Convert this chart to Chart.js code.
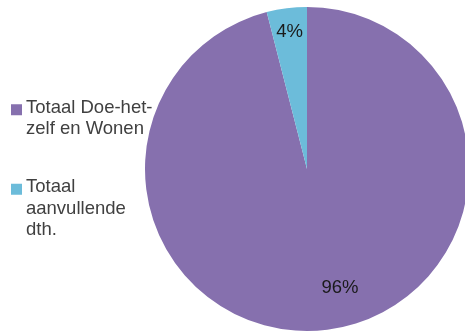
<!DOCTYPE html>
<html>
<head>
<meta charset="utf-8">
<script src="https://cdn.jsdelivr.net/npm/chart.js@4/dist/chart.umd.min.js"></script>
<style>
  html, body { margin: 0; padding: 0; background: #ffffff; overflow: hidden; width: 465px; height: 333px; }
  #wrap { position: absolute; left: 0; top: 0; width: 480px; height: 333px; }
</style>
</head>
<body>
<div id="wrap"><canvas id="c" width="480" height="333"></canvas></div>
<script>
// Share of total per category (percent)
const categories = ["Totaal Doe-het-zelf en Wonen", "Totaal aanvullende dth."];
const shares = [96, 4];
const sliceColors = ["#8670AE", "#6CBCDA"];

const FONT = "'Liberation Sans', Arial, sans-serif";

// Split a label into lines no wider than maxWidth, breaking at spaces or after hyphens
function wrapText(ctx, text, maxWidth) {
  const tokens = text.match(/[^\s-]+-?|\s+/g) || [];
  const lines = [];
  let cur = "";
  tokens.forEach(tok => {
    const trial = cur + tok;
    if (cur.trim() && ctx.measureText(trial.trimEnd()).width > maxWidth) {
      lines.push(cur.trim());
      cur = tok.trim() ? tok : "";
    } else {
      cur = trial;
    }
  });
  if (cur.trim()) lines.push(cur.trim());
  return lines;
}

// Legend drawn to the left of the pie, vertically centred on it
const sideLegend = {
  id: "sideLegend",
  afterDraw(chart, args, opts) {
    const ctx = chart.ctx;
    const labels = chart.data.labels;
    const colors = chart.data.datasets[0].backgroundColor;
    ctx.save();
    ctx.font = opts.fontSize + "px " + FONT;
    const blocks = labels.map(l => wrapText(ctx, l, opts.maxWidth));
    const totalLines = blocks.reduce((s, b) => s + b.length, 0);
    const span = (totalLines - blocks.length) * opts.lineHeight + (blocks.length - 1) * (opts.lineHeight + opts.itemGap);
    const cy = (chart.chartArea.top + chart.chartArea.bottom) / 2;
    let y = cy - span / 2;
    blocks.forEach((lines, i) => {
      ctx.fillStyle = colors[i];
      ctx.fillRect(opts.x, y - opts.box / 2 + 2, opts.box, opts.box);
      ctx.fillStyle = opts.color;
      ctx.textBaseline = "middle";
      ctx.textAlign = "left";
      lines.forEach((ln, j) => {
        ctx.fillText(ln, opts.x + opts.box + 4, y + j * opts.lineHeight);
      });
      y += (lines.length - 1) * opts.lineHeight + opts.lineHeight + opts.itemGap;
    });
    ctx.restore();
  }
};

// Percentage labels placed inside each slice
const sliceLabels = {
  id: "sliceLabels",
  afterDatasetsDraw(chart, args, opts) {
    const ctx = chart.ctx;
    const meta = chart.getDatasetMeta(0);
    const data = chart.data.datasets[0].data;
    const total = data.reduce((a, b) => a + b, 0);
    ctx.save();
    ctx.font = opts.fontSize + "px " + FONT;
    ctx.fillStyle = opts.color;
    ctx.textAlign = "center";
    ctx.textBaseline = "middle";
    meta.data.forEach((arc, i) => {
      const p = arc.getProps(["x", "y", "startAngle", "endAngle", "outerRadius"], true);
      const mid = (p.startAngle + p.endAngle) / 2 + (opts.angleShift[i] || 0) * Math.PI / 180;
      const r = p.outerRadius * opts.radius[i];
      const pct = Math.round(data[i] / total * 100) + "%";
      ctx.fillText(pct, p.x + Math.cos(mid) * r, p.y + Math.sin(mid) * r);
    });
    ctx.restore();
  }
};

new Chart(document.getElementById("c"), {
  type: "pie",
  data: {
    labels: categories,
    datasets: [{
      data: shares,
      backgroundColor: sliceColors,
      borderWidth: 0
    }]
  },
  options: {
    responsive: false,
    animation: false,
    devicePixelRatio: 1,
    layout: { padding: { left: 145, right: 11, top: 7, bottom: 2 } },
    plugins: {
      legend: { display: false },
      tooltip: { enabled: false },
      sideLegend: { x: 11, box: 11, fontSize: 18.5, lineHeight: 21.5, itemGap: 36.5, maxWidth: 130, color: "#404040" },
      sliceLabels: { fontSize: 18.5, color: "#1a1a1a", radius: [0.76, 0.855], angleShift: [-8.3, 0] }
    }
  },
  plugins: [sideLegend, sliceLabels]
});
</script>
</body>
</html>
